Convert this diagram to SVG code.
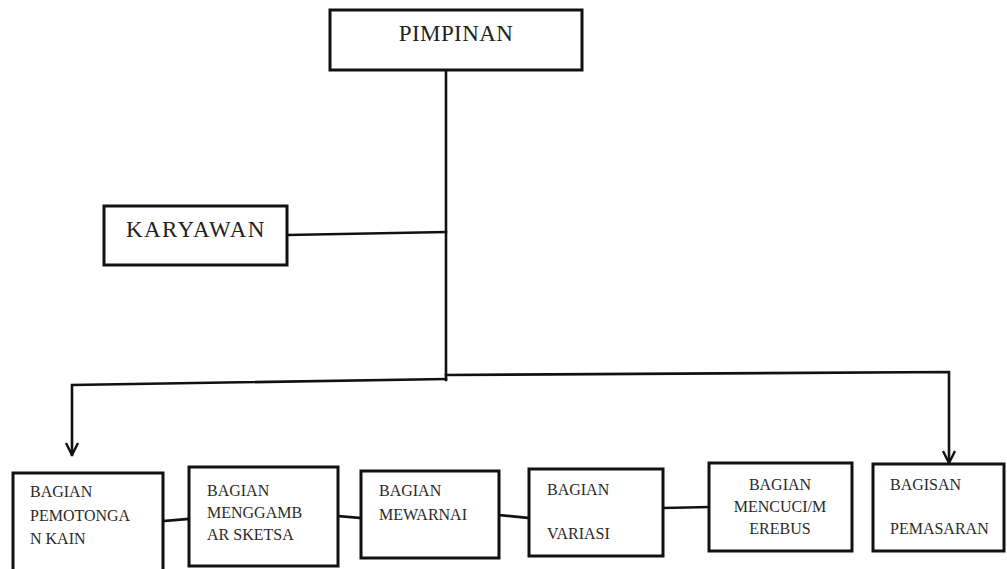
<svg xmlns="http://www.w3.org/2000/svg" width="1007" height="569" viewBox="0 0 1007 569">
<style>
.box{fill:#fff;stroke:#111;stroke-width:3}
.big{font-family:"Liberation Serif","Times New Roman",serif;font-size:23px;fill:#222}
.sm{font-family:"Liberation Serif","Times New Roman",serif;font-size:16px;fill:#2a2a2a}
.ln{fill:none;stroke:#111;stroke-width:2.6;stroke-linecap:square}
</style>
<defs>
<marker id="arr" viewBox="0 0 14 14" refX="13" refY="7" markerWidth="14" markerHeight="14" markerUnits="userSpaceOnUse" orient="auto">
<path d="M1,1 L13,7 L1,13" fill="none" stroke="#111" stroke-width="2.4"/>
</marker>
</defs>
<rect width="1007" height="569" fill="#fff"/>
<g id="connectors">
<line class="ln" x1="446" y1="71" x2="446" y2="380"/>
<line class="ln" x1="288" y1="235" x2="446" y2="232"/>
<polyline class="ln" points="446,379 72,385 72,455" marker-end="url(#arr)"/>
<polyline class="ln" points="446,375 949,372 949,463" marker-end="url(#arr)"/>
<line class="ln" x1="163" y1="521" x2="188" y2="519"/>
<line class="ln" x1="338" y1="516" x2="361" y2="518"/>
<line class="ln" x1="499" y1="515" x2="529" y2="518"/>
<line class="ln" x1="663" y1="508" x2="709" y2="507"/>
</g>
<g id="pimpinan">
<rect class="box" x="330" y="10" width="252" height="60"/>
<text class="big" x="456" y="41" text-anchor="middle" letter-spacing="0.4">PIMPINAN</text>
</g>
<g id="karyawan">
<rect class="box" x="104" y="206" width="183" height="59"/>
<text class="big" x="126" y="237" letter-spacing="1.4">KARYAWAN</text>
</g>
<g id="pemotongan">
<rect class="box" x="13" y="473" width="150" height="100"/>
<text class="sm" x="30" y="497">BAGIAN</text>
<text class="sm" x="30" y="521">PEMOTONGA</text>
<text class="sm" x="30" y="544">N KAIN</text>
</g>
<g id="menggambar">
<rect class="box" x="189" y="467" width="149" height="99"/>
<text class="sm" x="207" y="496">BAGIAN</text>
<text class="sm" x="207" y="518">MENGGAMB</text>
<text class="sm" x="207" y="540">AR SKETSA</text>
</g>
<g id="mewarnai">
<rect class="box" x="361" y="471" width="138" height="87"/>
<text class="sm" x="379" y="496">BAGIAN</text>
<text class="sm" x="379" y="520">MEWARNAI</text>
</g>
<g id="variasi">
<rect class="box" x="529" y="469" width="134" height="87"/>
<text class="sm" x="547" y="495">BAGIAN</text>
<text class="sm" x="547" y="539">VARIASI</text>
</g>
<g id="mencuci">
<rect class="box" x="709" y="463" width="143" height="88"/>
<text class="sm" x="780" y="490" text-anchor="middle">BAGIAN</text>
<text class="sm" x="780" y="512" text-anchor="middle">MENCUCI/M</text>
<text class="sm" x="780" y="534" text-anchor="middle">EREBUS</text>
</g>
<g id="pemasaran">
<rect class="box" x="873" y="464" width="131" height="87"/>
<text class="sm" x="890" y="490">BAGISAN</text>
<text class="sm" x="890" y="534">PEMASARAN</text>
</g>
</svg>
